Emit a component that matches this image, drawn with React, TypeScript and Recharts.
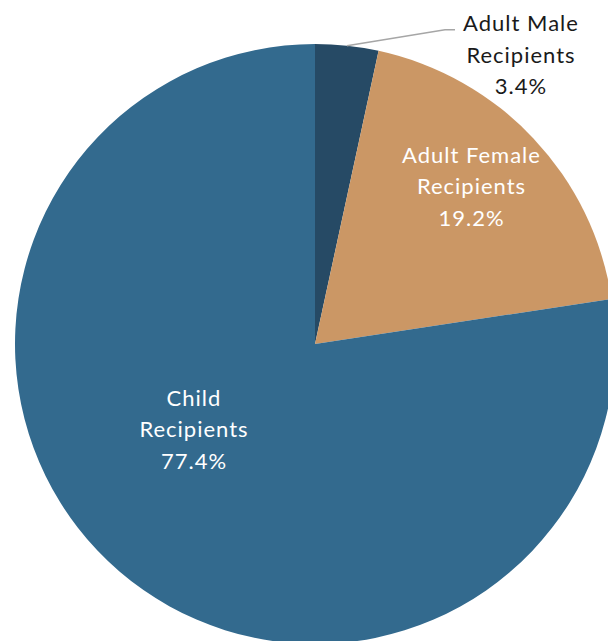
import { PieChart, Pie, Cell } from "recharts";

const labels = ["Adult Male", "Adult Female", "Child"];
const shares = [3.4, 19.2, 77.4];
const colors = ["#264a65", "#cb9765", "#336a8e"];

const data = labels.map((label, i) => ({
  name: label,
  value: shares[i],
  color: colors[i],
}));

// label anchor (middle line baseline) per slice, as fractions of the radius from the centre
const labelSpots = [
  { dx: 0.685, dy: -0.937 },
  { dx: 0.52, dy: -0.5 },
  { dx: -0.405, dy: 0.31 },
];

const FONT = "Lato, 'Open Sans', sans-serif";
const LINE = 31.5;

function SliceLabel(props: any) {
  const { cx, cy, outerRadius, midAngle, index, name, value } = props;
  const spot = labelSpots[index];
  const x = cx + spot.dx * outerRadius + 0.5;
  const y = cy + spot.dy * outerRadius;
  const fill = index === 0 ? "#1a1a1a" : "#ffffff";
  const rad = (Math.PI / 180) * midAngle;
  const ex = cx + outerRadius * Math.cos(rad);
  const ey = cy - outerRadius * Math.sin(rad);
  return (
    <g>
      {index === 0 && (
        <polyline
          points={`${ex},${ey} ${ex + 98},${ey - 16} ${ex + 108},${ey - 16}`}
          fill="none"
          stroke="#a6a6a6"
          strokeWidth={1.5}
        />
      )}
      <text
        x={x}
        y={y}
        textAnchor="middle"
        fill={fill}
        fontFamily={FONT}
        fontSize={22}
        letterSpacing={1}
      >
        <tspan x={x} dy={-LINE}>
          {name}
        </tspan>
        <tspan x={x} dy={LINE}>
          Recipients
        </tspan>
        <tspan x={x} dy={LINE}>
          {value.toFixed(1)}%
        </tspan>
      </text>
    </g>
  );
}

export default function App() {
  return (
    <div style={{ position: "absolute", top: 0, left: 0, width: 608, height: 641, background: "#fff" }}>
      <PieChart width={608} height={641} margin={{ top: 0, right: 0, bottom: 0, left: 0 }}>
        <Pie
          data={data}
          dataKey="value"
          nameKey="name"
          cx={315}
          cy={344}
          innerRadius={0}
          outerRadius={300}
          startAngle={90}
          endAngle={-270}
          stroke="none"
          label={SliceLabel}
          labelLine={false}
          isAnimationActive={false}
        >
          {data.map((entry) => (
            <Cell key={entry.name} fill={entry.color} />
          ))}
        </Pie>
      </PieChart>
    </div>
  );
}
